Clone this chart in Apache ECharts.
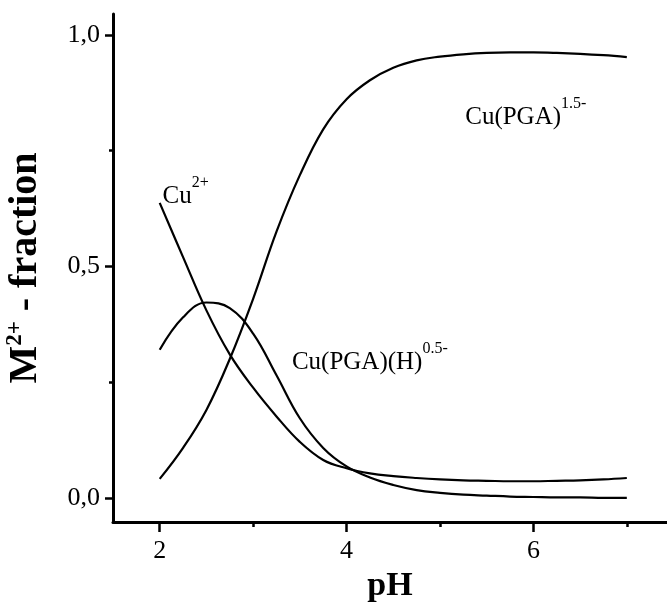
<!DOCTYPE html>
<html>
<head>
<meta charset="utf-8">
<script src="https://cdn.jsdelivr.net/npm/echarts@6/dist/echarts.min.js"></script>
<style>
html,body{margin:0;padding:0;background:#fff;}
#chart{width:667px;height:603px;}
</style>
</head>
<body>
<div id="chart"></div>
<script>
// ---- data ----
var pH = [2, 2.25, 2.5, 2.75, 3, 3.25, 3.5, 3.75, 4, 4.25, 4.5, 4.75, 5, 5.25, 5.5, 5.75, 6, 6.25, 6.5, 6.75, 7];
var cu2 = [0.637, 0.52, 0.405, 0.31, 0.238, 0.176, 0.121, 0.082, 0.064, 0.053, 0.047, 0.043, 0.04, 0.038, 0.037, 0.036, 0.036, 0.037, 0.038, 0.04, 0.043];
var cuPGAH = [0.32, 0.39, 0.422, 0.41, 0.355, 0.265, 0.172, 0.108, 0.068, 0.044, 0.028, 0.017, 0.011, 0.007, 0.005, 0.003, 0.002, 0.001, 0.001, 0.0, 0.0];
var cuPGA = [0.041, 0.108, 0.19, 0.30, 0.43, 0.575, 0.697, 0.796, 0.861, 0.902, 0.929, 0.945, 0.953, 0.958, 0.961, 0.962, 0.962, 0.961, 0.959, 0.956, 0.952];

var xMajorTicks = [2, 4, 6];
var xMinorTicks = [3, 5, 7];
var yMajorTicks = [0, 0.5, 1.0];
var yMinorTicks = [0.25, 0.75];

var annotations = [
  {main: 'Cu', sup: '2+', at: [2.03, 0.661]},
  {main: 'Cu(PGA)', sup: '1.5-', at: [5.27, 0.832]},
  {main: 'Cu(PGA)(H)', sup: '0.5-', at: [3.415, 0.302]}
];

var X_MIN = 1.5, X_MAX = 7.43, Y_MIN = -0.052, Y_MAX = 1.045;

function pairs(xs, ys) { return xs.map(function (x, i) { return [x, ys[i]]; }); }

var FONT = 'Liberation Serif';
var gridBox = {left: 113, top: 14, right: 0, bottom: 81, containLabel: false, outerBoundsMode: 'none'};

var chart = echarts.init(document.getElementById('chart'), null, {renderer: 'canvas'});

function lineSeries(vals) {
  return {
    type: 'line', xAxisIndex: 0, yAxisIndex: 0,
    data: pairs(pH, vals), smooth: 0.4, showSymbol: false, symbol: 'none',
    lineStyle: {color: '#000', width: 2.2}, silent: true
  };
}

chart.setOption({
  animation: false,
  backgroundColor: '#fff',
  grid: [Object.assign({}, gridBox), Object.assign({}, gridBox)],
  xAxis: [{
    type: 'value', gridIndex: 0, min: X_MIN, max: X_MAX, position: 'bottom',
    name: 'pH', nameLocation: 'middle', nameGap: 33,
    nameTextStyle: {fontFamily: FONT, fontWeight: 'bold', fontSize: 34, color: '#000'},
    axisLine: {show: true, onZero: false, lineStyle: {color: '#000', width: 3}},
    axisTick: {show: true, inside: false, length: 10, lineStyle: {color: '#000', width: 2.5}, customValues: xMajorTicks},
    axisLabel: {show: true, margin: 16, fontFamily: FONT, fontSize: 26, color: '#000', customValues: xMajorTicks,
      formatter: function (v) { return String(v); }},
    splitLine: {show: false}
  }, {
    type: 'value', gridIndex: 1, min: X_MIN, max: X_MAX, position: 'bottom',
    axisLine: {show: false, onZero: false},
    axisTick: {show: true, inside: false, length: 5, lineStyle: {color: '#000', width: 2.5}, customValues: xMinorTicks},
    axisLabel: {show: false},
    splitLine: {show: false}
  }],
  yAxis: [{
    type: 'value', gridIndex: 0, min: Y_MIN, max: Y_MAX, position: 'left',
    name: '{b|M}{s|2+}{b| - fraction}', nameLocation: 'middle', nameGap: 67, nameRotate: 90,
    nameTextStyle: {
      fontFamily: FONT, fontWeight: 'bold', fontSize: 40, color: '#000',
      rich: {
        b: {fontFamily: FONT, fontWeight: 'bold', fontSize: 40, color: '#000', lineHeight: 46, verticalAlign: 'bottom'},
        s: {fontFamily: FONT, fontWeight: 'bold', fontSize: 23, color: '#000', lineHeight: 46, verticalAlign: 'top', padding: [4, 0, 0, 0]}
      }
    },
    axisLine: {show: true, onZero: false, lineStyle: {color: '#000', width: 3}},
    axisTick: {show: true, inside: false, length: 8, lineStyle: {color: '#000', width: 2.5}, customValues: yMajorTicks},
    axisLabel: {show: true, margin: 13, fontFamily: FONT, fontSize: 26, color: '#000', customValues: yMajorTicks,
      formatter: function (v) { return Number(v).toFixed(1).replace('.', ','); }},
    splitLine: {show: false}
  }, {
    type: 'value', gridIndex: 1, min: Y_MIN, max: Y_MAX, position: 'left',
    axisLine: {show: false, onZero: false},
    axisTick: {show: true, inside: false, length: 4, lineStyle: {color: '#000', width: 2.5}, customValues: yMinorTicks},
    axisLabel: {show: false},
    splitLine: {show: false}
  }],
  series: [lineSeries(cu2), lineSeries(cuPGAH), lineSeries(cuPGA)]
});

var graphics = annotations.map(function (a) {
  var p = chart.convertToPixel({gridIndex: 0}, a.at);
  return {
    type: 'text', x: p[0], y: p[1], silent: true,
    style: {
      text: '{m|' + a.main + '}{s|' + a.sup + '}',
      verticalAlign: 'middle', align: 'left',
      rich: {
        m: {fontFamily: FONT, fontSize: 25, fill: '#000', lineHeight: 34, verticalAlign: 'bottom'},
        s: {fontFamily: FONT, fontSize: 16, fill: '#000', lineHeight: 34, verticalAlign: 'top'}
      }
    }
  };
});
chart.setOption({graphic: graphics});
</script>
</body>
</html>
